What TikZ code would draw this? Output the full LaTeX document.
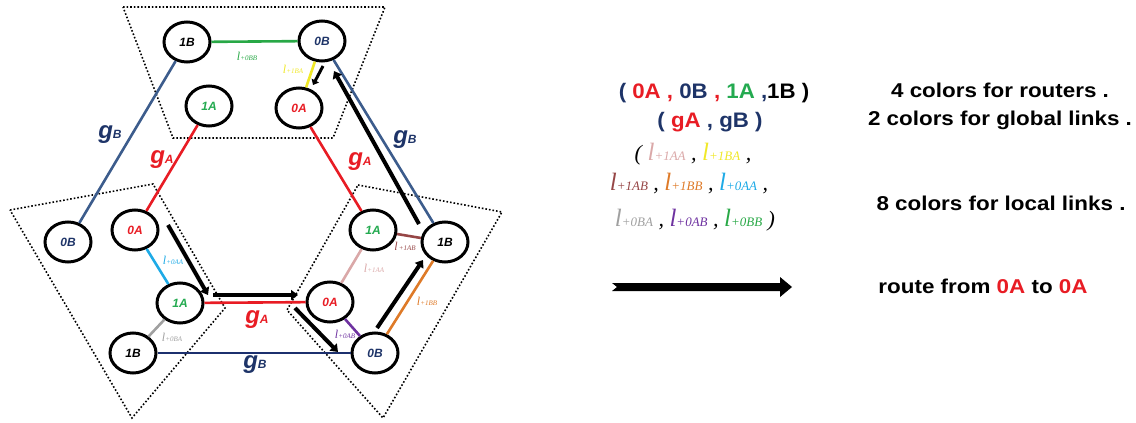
\documentclass[tikz,border=0pt]{standalone}
\usepackage{fontspec}
\setmainfont{Liberation Sans}
\newfontfamily\serf{Liberation Serif}
\usetikzlibrary{arrows.meta,shapes.geometric}
\definecolor{cred}{RGB}{232,28,36}
\definecolor{cnavy}{RGB}{30,52,104}
\definecolor{cgreen}{RGB}{36,170,80}
\definecolor{csteel}{RGB}{60,92,140}
\definecolor{cbotblue}{RGB}{28,48,110}
\definecolor{lzerobb}{RGB}{40,168,70}
\definecolor{lyellow}{RGB}{240,232,40}
\definecolor{lcyan}{RGB}{30,170,230}
\definecolor{lgray}{RGB}{160,160,160}
\definecolor{lbrown}{RGB}{150,70,70}
\definecolor{lpink}{RGB}{218,168,168}
\definecolor{lpurple}{RGB}{110,50,160}
\definecolor{lorange}{RGB}{222,122,40}
\newcommand\lk[1]{{\serf\itshape\fontsize{12}{12}\selectfont l\fontsize{7}{7}\selectfont#1}}
\newcommand\lkb[1]{{\serf\itshape\fontsize{25}{25}\selectfont l\fontsize{13}{13}\selectfont#1}}
\newcommand\gl[1]{{\bfseries\itshape\fontsize{24}{24}\selectfont g\fontsize{12}{12}\selectfont #1}}
\newcommand\wide[1]{\scalebox{1.12}[1]{#1}}
\begin{document}
\begin{tikzpicture}[x=1pt,y=-1pt,
  router/.style={draw=black,line width=3pt,ellipse,minimum width=46pt,minimum height=40pt,inner sep=0pt,font=\fontsize{12}{12}\selectfont\bfseries\itshape},
  glink/.style={line width=2.6pt},
  llink/.style={line width=2.6pt},
  route/.style={line width=4pt,-{Triangle[length=7pt,width=10pt]}},
  grp/.style={dotted,line width=1.6pt},
  lab/.style={inner sep=0pt},
  txt/.style={inner sep=0pt,anchor=base,font=\fontsize{20}{20}\selectfont\bfseries}]
\useasboundingbox (0,0) rectangle (1136,423);
% groups
\draw[grp] (123,7) -- (385,7) -- (333,138) -- (173,138) -- cycle;
\draw[grp] (10,210) -- (153,184) -- (225,308) -- (132,418) -- cycle;
\draw[grp] (358,185) -- (502,212) -- (383,418) -- (287,310) -- cycle;
% routers
\node[router] (t1B) at (187,42) {1B};
\node[router,text=cnavy] (t0B) at (322,41) {0B};
\node[router,text=cgreen] (t1A) at (209,106) {1A};
\node[router,text=cred] (t0A) at (299,108) {0A};
\node[router,text=cnavy] (l0B) at (68,242) {0B};
\node[router,text=cred] (l0A) at (135,230) {0A};
\node[router,text=cgreen] (l1A) at (180,303) {1A};
\node[router] (l1B) at (133,353) {1B};
\node[router,text=cgreen] (r1A) at (373,230) {1A};
\node[router] (r1B) at (445,242) {1B};
\node[router,text=cred] (r0A) at (330,302) {0A};
\node[router,text=cnavy] (r0B) at (375,353) {0B};
% global links
\draw[glink,cred] (t1A) -- (l0A);
\draw[glink,cred] (t0A) -- (r1A);
\draw[glink,cred] (l1A) -- (r0A);
\draw[glink,csteel] (t1B) -- (l0B);
\draw[glink,csteel] (t0B) -- (r1B);
\draw[glink,cbotblue] (l1B) -- (r0B);
% local links
\draw[llink,lzerobb] (t1B) -- (t0B);
\draw[llink,lyellow] (t0B) -- (t0A);
\draw[llink,lcyan] (l0A) -- (l1A);
\draw[llink,lgray] (l1A) -- (l1B);
\draw[llink,lbrown] (r1A) -- (r1B);
\draw[llink,lpink] (r1A) -- (r0A);
\draw[llink,lpurple] (r0A) -- (r0B);
\draw[llink,lorange] (r0B) -- (r1B);
% labels
\node[lab,cred] (gA1) at (162,160) {\gl{A}};
\node[lab,cred] (gA2) at (360,162) {\gl{A}};
\node[lab,cred] (gA3) at (257,320) {\gl{A}};
\node[lab,cnavy] (gB1) at (110,135) {\gl{B}};
\node[lab,cnavy] (gB2) at (405,140) {\gl{B}};
\node[lab,cnavy] (gB3) at (255,365) {\gl{B}};
\node[lab,lzerobb] (n1) at (247,56) {\lk{+0BB}};
\node[lab,lyellow] (n2) at (293,69) {\lk{+1BA}};
\node[lab,lcyan] (n3) at (173,260) {\lk{+0AA}};
\node[lab,lgray] (n4) at (172,337) {\lk{+0BA}};
\node[lab,lbrown] (n5) at (405,246) {\lk{\,+1AB}};
\node[lab,lpink] (n6) at (374,268) {\lk{+1AA}};
\node[lab,lpurple] (n7) at (345,334) {\lk{+0AB}};
\node[lab,lorange] (n8) at (427,301) {\lk{+1BB}};
% route
\coordinate (a1) at (168,225); \coordinate (a2) at (208,295);
\coordinate (b1) at (213,295); \coordinate (b2) at (298,295);
\coordinate (c1) at (295,308); \coordinate (c2) at (338,352);
\coordinate (d1) at (377,328); \coordinate (d2) at (423,260);
\coordinate (e1) at (419,224); \coordinate (e2) at (334,71);
\coordinate (f1) at (323,66); \coordinate (f2) at (313,85);
\draw[route] (a1) -- (a2);
\draw[route] (b1) -- (b2);
\draw[route] (c1) -- (c2);
\draw[route] (d1) -- (d2);
\draw[route] (e1) -- (e2);
\draw[route,-{Triangle[length=5pt,width=8pt]},line width=3pt] (f1) -- (f2);
% middle legend
\node[txt,font=\fontsize{21}{21}\selectfont\bfseries] (m1) at (714,98) {\scalebox{1.06}[1]{\textcolor{cnavy}{(} \textcolor{cred}{0A ,} \textcolor{cnavy}{0B} \textcolor{cred}{,} \textcolor{cgreen}{1A} \textcolor{cnavy}{,}1B )}};
\node[txt,font=\fontsize{21}{21}\selectfont\bfseries] (m2) at (710,127) {\scalebox{1.06}[1]{\textcolor{cnavy}{(} \textcolor{cred}{gA} \textcolor{cnavy}{, gB )}}};
\node[txt,font=\serf\itshape\fontsize{22}{22}\selectfont] (m3) at (693,160) {( \textcolor{lpink}{\lkb{+1AA}} , \textcolor{lyellow}{\lkb{+1BA}} ,};
\node[txt,font=\serf\itshape\fontsize{22}{22}\selectfont] (m4) at (689,190) {\textcolor{lbrown}{\lkb{+1AB}} , \textcolor{lorange}{\lkb{+1BB}} , \textcolor{lcyan}{\lkb{+0AA}} ,};
\node[txt,font=\serf\itshape\fontsize{22}{22}\selectfont] (m5) at (695,226) {\textcolor{lgray}{\lkb{+0BA}} , \textcolor{lpurple}{\lkb{+0AB}} , \textcolor{lzerobb}{\lkb{+0BB}} )};
% big arrow
\fill[black] (612,283) -- (780,283) -- (780,277) -- (792,287) -- (780,297) -- (780,291) -- (612,291) -- (617,287) -- cycle;
% right text
\node[txt] (r1) at (1000,97) {\wide{4 colors for routers .}};
\node[txt] (r2) at (1000,125) {\wide{2 colors for global links .}};
\node[txt] (r3) at (1001,210) {\wide{8 colors for local links .}};
\node[txt] (r4) at (983,293) {\wide{route from \textcolor{cred}{0A} to \textcolor{cred}{0A}}};
\end{tikzpicture}
\end{document}
